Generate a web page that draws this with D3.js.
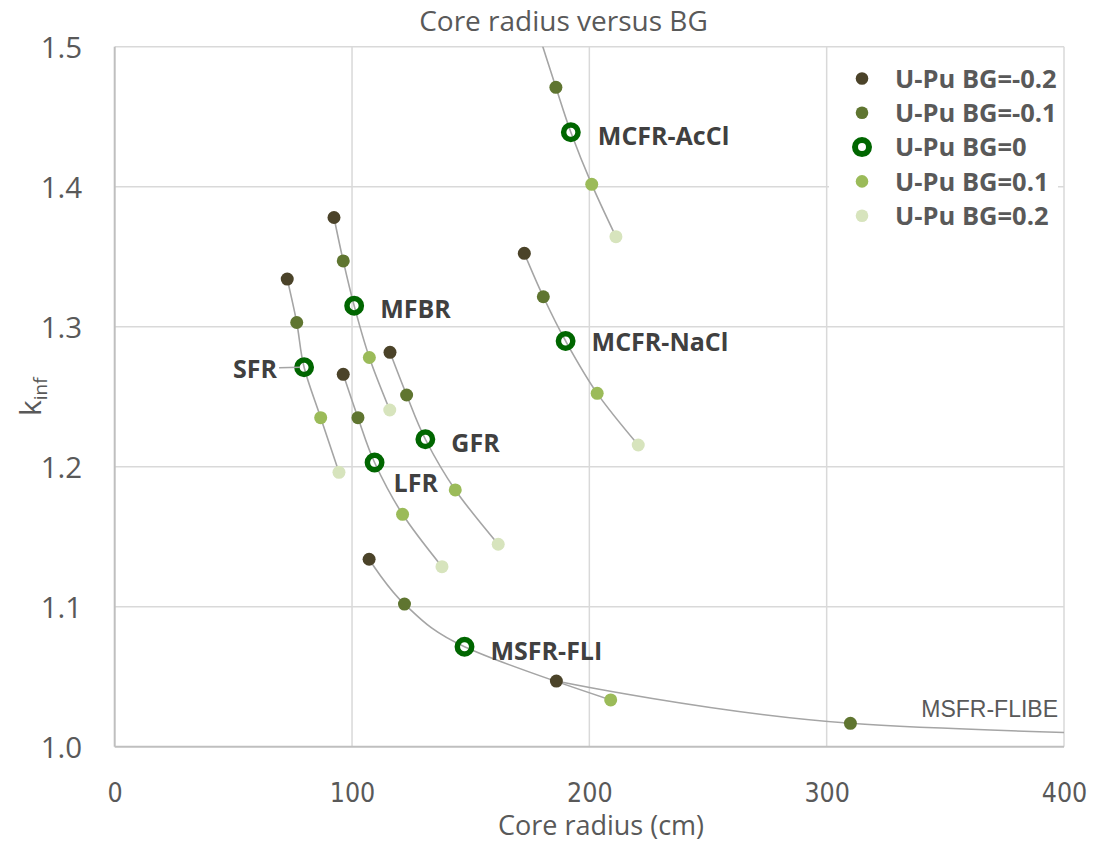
<!DOCTYPE html>
<html>
<head>
<meta charset="utf-8">
<script src="https://cdn.jsdelivr.net/npm/d3@7"></script>
<style>
  html, body { margin: 0; padding: 0; background: #fff; }
  svg { display: block; }
</style>
</head>
<body>
<svg id="chart" width="1103" height="844"></svg>
<script>
// ---------- data ----------
const bgLevels = ["-0.2", "-0.1", "0", "0.1", "0.2"];
const legendLabels = ["U-Pu BG=-0.2", "U-Pu BG=-0.1", "U-Pu BG=0", "U-Pu BG=0.1", "U-Pu BG=0.2"];
const bgColors = ["#4b4329", "#5f7530", "#006600", "#9bbb59", "#d7e4bd"];

const reactorNames = ["SFR", "MFBR", "LFR", "GFR", "MCFR-NaCl", "MCFR-AcCl", "MSFR-FLI", "MSFR-FLIBE"];

const sfrRadius = [72.7, 76.7, 79.8, 86.8, 94.5];
const sfrK = [1.334, 1.303, 1.271, 1.235, 1.196];
const mfbrRadius = [92.4, 96.3, 100.9, 107.3, 115.9];
const mfbrK = [1.378, 1.347, 1.315, 1.278, 1.2405];
const lfrRadius = [96.3, 102.5, 109.5, 121.3, 137.9];
const lfrK = [1.266, 1.235, 1.203, 1.166, 1.1286];
const gfrRadius = [116.0, 123.0, 130.9, 143.5, 161.6];
const gfrK = [1.2817, 1.2512, 1.2196, 1.1834, 1.1446];
const mcfrNaClRadius = [172.6, 180.6, 190.0, 203.3, 220.6];
const mcfrNaClK = [1.3524, 1.3214, 1.2898, 1.2524, 1.2155];
const mcfrAcClRadius = [178.5, 185.9, 192.2, 201.0, 211.2];
const mcfrAcClK = [1.51, 1.471, 1.4389, 1.4017, 1.3643];
const msfrFliRadius = [107.2, 122.1, 147.4, 209.0];
const msfrFliK = [1.1339, 1.1019, 1.0714, 1.0334];
const msfrFlibeRadius = [186.1, 310.0, 530.0];
const msfrFlibeK = [1.0469, 1.0167, 1.005];

const xTicks = [0, 100, 200, 300, 400];
const yTicks = [1.0, 1.1, 1.2, 1.3, 1.4, 1.5];

// label placement (pixel offsets from the BG=0 point)
const labelSpec = {
  "SFR":       { dx: -27, dy: 11, anchor: "end", leader: true },
  "MFBR":      { dx: 26, dy: 12.5, anchor: "start" },
  "LFR":       { dx: 19, dy: 29.5, anchor: "start" },
  "GFR":       { dx: 26, dy: 12.5, anchor: "start" },
  "MCFR-NaCl": { dx: 26, dy: 10, anchor: "start" },
  "MCFR-AcCl": { dx: 27, dy: 12.5, anchor: "start" },
  "MSFR-FLI":  { dx: 26, dy: 13, anchor: "start" }
};

const reactors = [
  { name: "SFR", r: sfrRadius, k: sfrK },
  { name: "MFBR", r: mfbrRadius, k: mfbrK },
  { name: "LFR", r: lfrRadius, k: lfrK },
  { name: "GFR", r: gfrRadius, k: gfrK },
  { name: "MCFR-NaCl", r: mcfrNaClRadius, k: mcfrNaClK },
  { name: "MCFR-AcCl", r: mcfrAcClRadius, k: mcfrAcClK },
  { name: "MSFR-FLI", r: msfrFliRadius, k: msfrFliK },
  { name: "MSFR-FLIBE", r: msfrFlibeRadius, k: msfrFlibeK }
].map(d => ({
  name: d.name,
  pts: d.r.map((r, i) => ({ r: r, k: d.k[i], bg: i }))
}));

// ---------- layout ----------
const svg = d3.select("#chart");
const margin = { left: 114.7, right: 1064, top: 46.7, bottom: 746.7 };
const x = d3.scaleLinear().domain([0, 400]).range([margin.left, margin.right]);
const y = d3.scaleLinear().domain([1.0, 1.5]).range([margin.bottom, margin.top]);

const textGray = "#595959";
const labelColor = "#404040";
const gridColor = "#d9d9d9";

svg.append("defs").append("clipPath").attr("id", "plotClip")
  .append("rect")
  .attr("x", x(0)).attr("y", y(1.5))
  .attr("width", x(400) - x(0)).attr("height", y(1.0) - y(1.5));

// gridlines
const grid = svg.append("g");
grid.selectAll("line.vg").data(xTicks.slice(1)).join("line")
  .attr("x1", d => x(d)).attr("x2", d => x(d))
  .attr("y1", y(1.5)).attr("y2", y(1.0))
  .attr("stroke", gridColor).attr("stroke-width", 1.5);
grid.selectAll("line.hg").data(yTicks.slice(1)).join("line")
  .attr("x1", x(0)).attr("x2", x(400))
  .attr("y1", d => y(d)).attr("y2", d => y(d))
  .attr("stroke", gridColor).attr("stroke-width", 1.5);

// axis lines
svg.append("line").attr("x1", x(0)).attr("x2", x(0)).attr("y1", y(1.5)).attr("y2", y(1.0))
  .attr("stroke", "#bfbfbf").attr("stroke-width", 2);
svg.append("line").attr("x1", x(0)).attr("x2", x(400)).attr("y1", y(1.0)).attr("y2", y(1.0))
  .attr("stroke", "#bfbfbf").attr("stroke-width", 2);

// tick labels via d3 axes (no domain / tick lines)
const yAxis = svg.append("g").attr("transform", `translate(${x(0) - 32.5},0)`)
  .call(d3.axisLeft(y).tickValues(yTicks).tickFormat(d3.format(".1f")).tickSize(0).tickPadding(0));
yAxis.select(".domain").remove();
yAxis.selectAll("text")
  .attr("font-family", "'Open Sans', sans-serif").attr("font-size", 29.5)
  .attr("fill", textGray).attr("dy", "0.36em");

const xAxis = svg.append("g").attr("transform", `translate(0,${y(1.0)})`)
  .call(d3.axisBottom(x).tickValues(xTicks).tickFormat(d3.format("d")).tickSize(0).tickPadding(0));
xAxis.select(".domain").remove();
xAxis.selectAll("text")
  .attr("font-family", "'Liberation Sans Narrow', 'DejaVu Sans Condensed', sans-serif")
  .attr("font-size", 26.5).attr("fill", textGray)
  .attr("dy", null).attr("y", 55);

// titles
svg.append("text").attr("x", 563.5).attr("y", 31)
  .attr("text-anchor", "middle").attr("font-family", "'Open Sans', sans-serif")
  .attr("font-size", 28).attr("fill", textGray)
  .text("Core radius versus BG");

svg.append("text").attr("x", 601).attr("y", 835)
  .attr("text-anchor", "middle").attr("font-family", "'Open Sans', sans-serif")
  .attr("font-size", 27).attr("fill", textGray)
  .text("Core radius (cm)");

const yt = svg.append("text")
  .attr("transform", `translate(41,${(y(1.0) + y(1.5)) / 2}) rotate(-90)`)
  .attr("text-anchor", "middle").attr("font-family", "'Open Sans', sans-serif")
  .attr("font-size", 30).attr("fill", textGray);
yt.append("tspan").text("k");
yt.append("tspan").attr("font-size", 19).attr("dy", 6).text("inf");

// ---------- series ----------
const plot = svg.append("g").attr("clip-path", "url(#plotClip)");
const line = d3.line().x(d => x(d.r)).y(d => y(d.k)).curve(d3.curveCardinal.tension(0));

plot.selectAll("path.series").data(reactors).join("path")
  .attr("class", "series")
  .attr("d", d => line(d.pts))
  .attr("fill", "none").attr("stroke", "#a5a5a5").attr("stroke-width", 1.6);

// SFR leader line
const sfr = reactors.find(d => d.name === "SFR").pts[2];
svg.append("line")
  .attr("x1", x(sfr.r) + labelSpec["SFR"].dx + 2).attr("x2", x(sfr.r) - 4)
  .attr("y1", y(sfr.k) + 0.5).attr("y2", y(sfr.k))
  .attr("stroke", "#a5a5a5").attr("stroke-width", 1.6);

const inRange = p => p.r >= 0 && p.r <= 400 && p.k >= 1.0 && p.k <= 1.5;
const allPts = reactors.flatMap(d => d.pts.filter(inRange));

plot.selectAll("circle.filled").data(allPts.filter(p => p.bg !== 2)).join("circle")
  .attr("class", "filled")
  .attr("cx", p => x(p.r)).attr("cy", p => y(p.k)).attr("r", 6.5)
  .attr("fill", p => bgColors[p.bg]);

plot.selectAll("circle.ring").data(allPts.filter(p => p.bg === 2)).join("circle")
  .attr("class", "ring")
  .attr("cx", p => x(p.r)).attr("cy", p => y(p.k)).attr("r", 7.2)
  .attr("fill", "none").attr("stroke", bgColors[2]).attr("stroke-width", 5.5);

// data labels
const labelled = reactors.filter(d => labelSpec[d.name]);
svg.selectAll("text.dlabel").data(labelled).join("text")
  .attr("class", "dlabel")
  .attr("x", d => x(d.pts[2].r) + labelSpec[d.name].dx)
  .attr("y", d => y(d.pts[2].k) + labelSpec[d.name].dy)
  .attr("text-anchor", d => labelSpec[d.name].anchor)
  .attr("font-family", "'Open Sans', sans-serif").attr("font-weight", "bold")
  .attr("font-size", 25).attr("fill", labelColor)
  .text(d => d.name);

svg.append("text")
  .attr("x", x(400) - 6).attr("y", y(1.0) - 30)
  .attr("text-anchor", "end").attr("font-family", "'Liberation Sans', Arial, sans-serif")
  .attr("font-size", 23).attr("fill", textGray)
  .text("MSFR-FLIBE");

// ---------- legend ----------
const legend = svg.append("g");
legend.append("rect").attr("x", 829).attr("y", 56).attr("width", 229).attr("height", 180).attr("fill", "#fff");
const lg = legend.selectAll("g.item").data(legendLabels).join("g")
  .attr("class", "item")
  .attr("transform", (d, i) => `translate(862,${78.5 + i * 34.3})`);
lg.append("circle")
  .attr("r", (d, i) => i === 2 ? 7 : 6.3)
  .attr("fill", (d, i) => i === 2 ? "#fff" : bgColors[i])
  .attr("stroke", (d, i) => i === 2 ? bgColors[2] : "none")
  .attr("stroke-width", 6);
lg.append("text").attr("x", 33).attr("dy", "0.36em")
  .attr("font-family", "'Open Sans', sans-serif").attr("font-weight", "bold")
  .attr("font-size", 25.5).attr("fill", textGray)
  .text(d => d);
</script>
</body>
</html>
